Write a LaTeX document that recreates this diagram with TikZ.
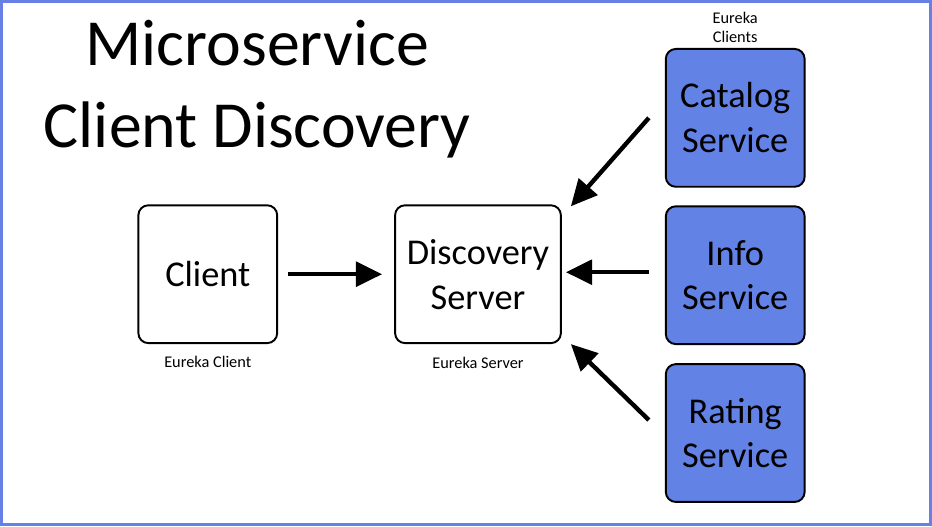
\documentclass[tikz,border=0pt]{standalone}
\usepackage{fontspec}
\setmainfont{Carlito}
\usepackage{xcolor}
\usetikzlibrary{arrows.meta, positioning, calc}

\definecolor{frameblue}{RGB}{102,128,230}
\definecolor{svcblue}{RGB}{99,130,230}

\begin{document}
\begin{tikzpicture}[x=0.02cm, y=-0.02cm, >={Triangle[length=15pt,width=14pt]},
    box/.style={draw, line width=1.1pt, rounded corners=0.2cm, minimum width=2.78cm,
        minimum height=2.76cm, align=center, font=\fontsize{20.7}{25.6}\selectfont},
    svc/.style={box, fill=svcblue},
    tag/.style={font=\fontsize{9.3}{10.8}\selectfont, align=center, inner sep=1pt},
    link/.style={->, line width=2.5pt}]
    % frame
    \draw [frameblue, line width=1.7pt, fill=white] (1,1) rectangle (931,525);
    \useasboundingbox (0,0) rectangle (932,526);

    % title
    \node (title) [align=center, font=\fontsize{37.5}{46.5}\selectfont] at (257,88.5) {Microservice\\Client Discovery};

    % boxes
    \node (client) [box] at (207.5,274) {Client};
    \node (disc) [box, minimum width=3.32cm] at (478,274) {Discovery\\Server};
    \node (cat) [svc] at (735.5,117.5) {Catalog\\Service};
    \node (info) [svc] at (735.5,275) {Info\\Service};
    \node (rate) [svc] at (735.5,433) {Rating\\Service};

    % labels
    \node (clienttag) [tag, below=0.2cm of client] {Eureka Client};
    \node (disctag) [tag, below=0.22cm of disc] {Eureka Server};
    \node (cattag) [tag, above=0.06cm of cat] {Eureka\\Clients};

    % arrows
    \draw [link] ($(client.east)+(10,0)$) -- ($(disc.west)+(-12,0)$);
    \draw [link] ($(info.west)+(-16,-3)$) -- ($(disc.east)+(4,-2)$);
    \draw [link] ($(cat.west)+(-16,0)$) -- ($(disc.north east)+(9,2)$);
    \draw [link] ($(rate.west)+(-16,-13)$) -- ($(disc.south east)+(9,0)$);
\end{tikzpicture}
\end{document}
